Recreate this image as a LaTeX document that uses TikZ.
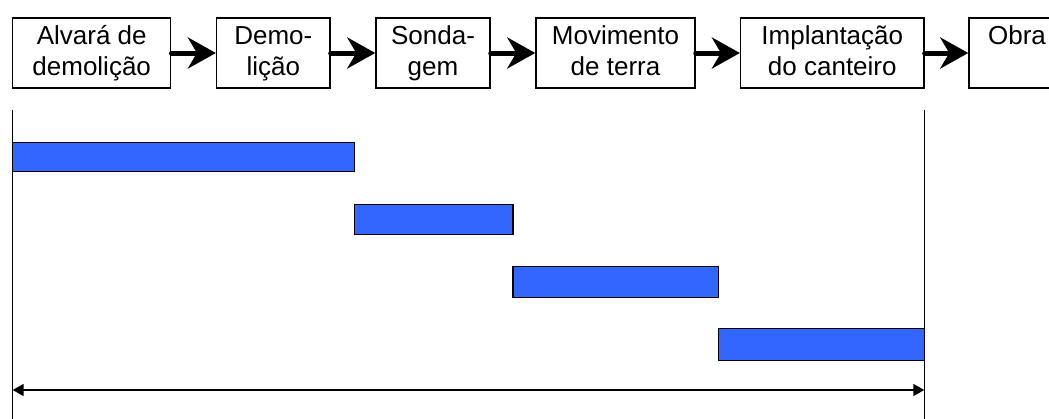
\documentclass[tikz,border=0pt]{standalone}
\usepackage{fontspec}
\setmainfont{Liberation Sans}
\usetikzlibrary{arrows.meta}
\definecolor{barblue}{HTML}{3366FF}
\newcommand{\topstrt}{\rule{0pt}{20pt}}
\newcommand{\botstrt}{\rule[-6pt]{0pt}{6pt}}
\begin{document}
\begin{tikzpicture}[x=1pt,y=-1pt,
  stepbox/.style={draw,line width=1.5pt,minimum height=70pt,inner sep=0pt,align=center,
    font=\fontsize{26}{31}\selectfont},
  flow/.style={line width=5pt,line cap=round,-{Stealth[length=28pt,width=31pt,inset=9pt]}},
  vline/.style={line width=1.5pt},
  bar/.style={draw,line width=1.5pt,fill=barblue},
  span/.style={line width=1.5pt,{Triangle[length=11pt,width=12pt]}-{Triangle[length=11pt,width=12pt]}}]
\clip (0,0) rectangle (1049,418);
\fill[white] (0,0) rectangle (1049,418);
\node[stepbox,minimum width=158pt] (b1) at (91.7,53) {\topstrt Alvará de\\\botstrt demolição};
\node[stepbox,minimum width=113.3pt] (b2) at (273.3,53) {\topstrt Demo-\\\botstrt lição};
\node[stepbox,minimum width=114pt] (b3) at (433,53) {\topstrt Sonda-\\\botstrt gem};
\node[stepbox,minimum width=159pt] (b4) at (615.5,53) {\topstrt Movimento\\\botstrt de terra};
\node[stepbox,minimum width=183.3pt] (b5) at (832.3,53) {\topstrt Implantação\\\botstrt do canteiro};
\node[stepbox,minimum width=96pt] (b6) at (1017,53) {\topstrt Obra\\\botstrt};
\draw[flow] (b1.east) -- (b2.west);
\draw[flow] (b2.east) -- (b3.west);
\draw[flow] (b3.east) -- (b4.west);
\draw[flow] (b4.east) -- (b5.west);
\draw[flow] (b5.east) -- (b6.west);
\coordinate (lt) at (12.7,110);
\coordinate (lb) at (12.7,420);
\coordinate (rt) at (924.3,110);
\coordinate (rb) at (924.3,420);
\coordinate (al) at (12.7,390);
\coordinate (ar) at (924.3,390);
\draw[vline] (lt) -- (lb);
\draw[vline] (rt) -- (rb);
\draw[bar] (12.7,142.3) rectangle (354.3,171.7);
\draw[bar] (354.3,204.3) rectangle (513,234.3);
\draw[bar] (513,266.3) rectangle (718.3,297.3);
\draw[bar] (718.3,328.3) rectangle (924.3,360.3);
\draw[span] (al) -- (ar);
\end{tikzpicture}
\end{document}
